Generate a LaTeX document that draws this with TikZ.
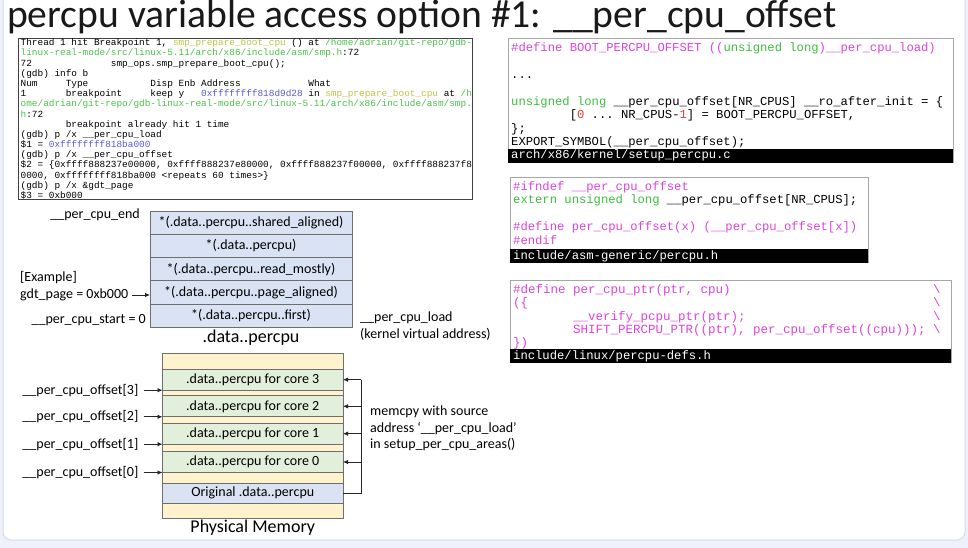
\documentclass[tikz,border=0pt]{standalone}
\usepackage{fontspec}
\setmainfont{Carlito}
\setmonofont{Liberation Mono}
\usetikzlibrary{arrows.meta, positioning, calc}
\definecolor{outerbg}{HTML}{EEF1F9}
\definecolor{slideedge}{HTML}{D5DCEB}
\definecolor{secblue}{HTML}{DAE3F3}
\definecolor{coregreen}{HTML}{E2EFDA}
\definecolor{padyellow}{HTML}{FFF2CC}
\definecolor{rowedge}{HTML}{6E6E6E}
\definecolor{codemag}{HTML}{DD44DD}
\definecolor{codegreen}{HTML}{3FBF3F}
\definecolor{codered}{HTML}{E03C3C}
\definecolor{gdbfunc}{HTML}{BFC545}
\definecolor{gdbpath}{HTML}{4CC24C}
\definecolor{gdbaddr}{HTML}{5A5AD6}

\newcommand\skipch[1]{\hspace*{\dimexpr 0.6em*#1\relax}}
\newcommand\gfunc[1]{\textcolor{gdbfunc}{#1}}
\newcommand\gpath[1]{\textcolor{gdbpath}{#1}}
\newcommand\gaddr[1]{\textcolor{gdbaddr}{#1}}
\newcommand\cmag[1]{\textcolor{codemag}{#1}}
\newcommand\cgrn[1]{\textcolor{codegreen}{#1}}
\newcommand\cred[1]{\textcolor{codered}{#1}}
\newcommand\contd[1]{\makebox[\dimexpr 0.6em*56\relax][l]{#1}\textbackslash}

\begin{document}
\begin{tikzpicture}[
    x=1pt, y=-1pt,
    lbl/.style={font=\fontsize{14}{16.7}\selectfont, inner sep=2pt},
    heading/.style={font=\fontsize{18}{20}\selectfont, inner sep=2pt},
    secrow/.style={draw=rowedge, line width=0.9pt, fill=secblue, minimum width=202pt, minimum height=23.3pt, inner sep=0pt, outer sep=0pt, font=\fontsize{14}{16}\selectfont},
    memrow/.style={secrow, minimum width=180.5pt, minimum height=21pt},
    corerow/.style={memrow, fill=coregreen},
    ptr/.style={-{Latex[length=5pt, width=4.5pt]}, line width=0.8pt, black!85},
    gdbbox/.style={draw=black!75, line width=1.2pt, fill=white, inner sep=0pt, anchor=north west},
    codebox/.style={draw=gray!70, line width=0.8pt, fill=white, inner sep=0pt, anchor=north west},
    codetext/.style={font=\fontsize{12.2}{13.5}\selectfont\ttfamily, align=left, inner sep=0pt, anchor=north west},
    pathbar/.style={fill=black, text=white, font=\fontsize{12.2}{13.5}\selectfont\ttfamily, inner xsep=3pt, inner ysep=0pt, minimum height=14pt, align=left, anchor=south west}
]
\useasboundingbox (0,0) rectangle (968,548);

% -- slide background --
\fill[outerbg] (0,0) rectangle (968,548);
\draw[slideedge, fill=white, line width=1pt, rounded corners=8pt] (3,-12) rectangle (965,540);

\node[font=\fontsize{39.6}{44}\selectfont, text=black!90, anchor=base west, inner sep=0pt] (title) at (7,28) {percpu variable access option \#1: \_\_per\_cpu\_offset};

% -- GDB SESSION --
\node[gdbbox, minimum width=454pt, minimum height=161pt] (gdbout) at (18,38) {};
\node[font=\fontsize{9.4}{10.18}\selectfont\ttfamily, align=left, inner sep=0pt, anchor=north west] (gdbtxt) at (20.5,38.8) {%
Thread 1 hit Breakpoint 1, \gfunc{smp\_prepare\_boot\_cpu} () at \gpath{/home/adrian/git-repo/gdb-}\\
\gpath{linux-real-mode/src/linux-5.11/arch/x86/include/asm/smp.h}:72\\
72\skipch{14}smp\_ops.smp\_prepare\_boot\_cpu();\\
(gdb) info b\\
Num\skipch{5}Type\skipch{11}Disp Enb Address\skipch{12}What\\
1\skipch{7}breakpoint\skipch{5}keep y\skipch{3}\gaddr{0xffffffff818d9d28} in \gfunc{smp\_prepare\_boot\_cpu} at \gpath{/h}\\
\gpath{ome/adrian/git-repo/gdb-linux-real-mode/src/linux-5.11/arch/x86/include/asm/smp.}\\
\gpath{h}:72\\
\skipch{8}breakpoint already hit 1 time\\
(gdb) p /x \_\_per\_cpu\_load\\
\$1 = \gaddr{0xffffffff818ba000}\\
(gdb) p /x \_\_per\_cpu\_offset\\
\$2 = \{0xffff888237e00000, 0xffff888237e80000, 0xffff888237f00000, 0xffff888237f8\\
0000, 0xffffffff818ba000 <repeats 60 times>\}\\
(gdb) p /x \&gdt\_page\\
\$3 = 0xb000};

% -- SOURCE SNIPPETS --
\node[codebox, minimum width=445pt, minimum height=124pt] (setupbox) at (508,38) {};
\node[codetext] (setuptxt) at (511,42) {%
\cmag{\#define BOOT\_PERCPU\_OFFSET ((}\cgrn{unsigned long}\cmag{)\_\_per\_cpu\_load)}\\
~\\
...\\
~\\
\cgrn{unsigned long} \_\_per\_cpu\_offset[NR\_CPUS] \_\_ro\_after\_init = \{\\
\skipch{8}[\cred{0} ... NR\_CPUS-\cred{1}] = BOOT\_PERCPU\_OFFSET,\\
\};\\
EXPORT\_SYMBOL(\_\_per\_cpu\_offset);};
\node[pathbar, text width=439pt] (setupbar) at (setupbox.south west) {arch/x86/kernel/setup\_percpu.c};

\node[codebox, minimum width=358pt, minimum height=85pt] (genericbox) at (510,177) {};
\node[codetext, font=\fontsize{12.2}{13.6}\selectfont\ttfamily] (generictxt) at (513,181) {%
\cmag{\#ifndef \_\_per\_cpu\_offset}\\
\cgrn{extern unsigned long} \_\_per\_cpu\_offset[NR\_CPUS];\\
~\\
\cmag{\#define per\_cpu\_offset(x) (\_\_per\_cpu\_offset[x])}\\
\cmag{\#endif}};
\node[pathbar, text width=352pt, minimum height=13.5pt] (genericbar) at (genericbox.south west) {include/asm-generic/percpu.h};

\node[codebox, minimum width=441pt, minimum height=82pt] (defsbox) at (510,280) {};
\node[codetext, font=\fontsize{12.5}{13.4}\selectfont\ttfamily, text=codemag] (defstxt) at (513,284) {%
\contd{\#define per\_cpu\_ptr(ptr, cpu)}\\
\contd{(\{}\\
\contd{\skipch{8}\_\_verify\_pcpu\_ptr(ptr);}\\
\contd{\skipch{8}SHIFT\_PERCPU\_PTR((ptr), per\_cpu\_offset((cpu)));}\\
\})};
\node[pathbar, text width=435pt, minimum height=13.5pt] (defsbar) at (defsbox.south west) {include/linux/percpu-defs.h};

% -- .data..percpu SECTION --
\node[secrow] (shared) at (251,222.6) {*(.data..percpu..shared\_aligned)};
\node[secrow, below=0pt of shared] (plain) {*(.data..percpu)};
\node[secrow, below=0pt of plain] (readm) {*(.data..percpu..read\_mostly)};
\node[secrow, below=0pt of readm] (page) {*(.data..percpu..page\_aligned)};
\node[secrow, below=0pt of page] (first) {*(.data..percpu..first)};
\node[heading, below=0pt of first] (datalbl) {.data..percpu};

\node[lbl, anchor=east] (pcend) at (142,215) {\_\_per\_cpu\_end};
\node[lbl, anchor=west] (example) at (18,278) {[Example]};
\node[lbl, anchor=west] (gdt) at (18,295) {gdt\_page = 0xb000};
\draw[ptr, shorten <=2pt] (gdt.east) -- (gdt.east -| page.west);
\node[lbl, anchor=east] (pcstart) at (148,320) {\_\_per\_cpu\_start = 0};
\node[lbl, align=left, anchor=north west] (loadlbl) at (358,310) {\_\_per\_cpu\_load\\(kernel virtual address)};

% -- PHYSICAL MEMORY --
\node[memrow, fill=padyellow, minimum height=165pt] (phys) at (252.75,435.7) {};
\foreach \n/\y in {3/379.7, 2/406.3, 1/433.7, 0/462} {
    \node[corerow] (core\n) at (252.75,\y) {.data..percpu for core \n};
    \node[lbl, anchor=east] (off\n) at ([xshift=-22pt]core\n.south west) {\_\_per\_cpu\_offset[\n]};
    \draw[ptr, shorten <=3pt] (off\n.east) -- (off\n.east -| phys.west);
}
\node[memrow, minimum height=20pt] (orig) at (252.75,493.3) {Original .data..percpu};
\node[heading, below=0pt of phys] (physlbl) {Physical Memory};

\coordinate (bus) at ($(orig.east)+(18,0)$);
\draw[line width=0.8pt, black!85] (orig.east) -- (bus) -- (bus |- core3.east);
\foreach \n in {3,2,1,0}
    \draw[ptr] (bus |- core\n.east) -- (core\n.east);
\node[lbl, align=left, anchor=west] (memcpylbl) at (368,428.5) {memcpy with source\\address ‘\_\_per\_cpu\_load’\\in setup\_per\_cpu\_areas()};

\end{tikzpicture}
\end{document}
